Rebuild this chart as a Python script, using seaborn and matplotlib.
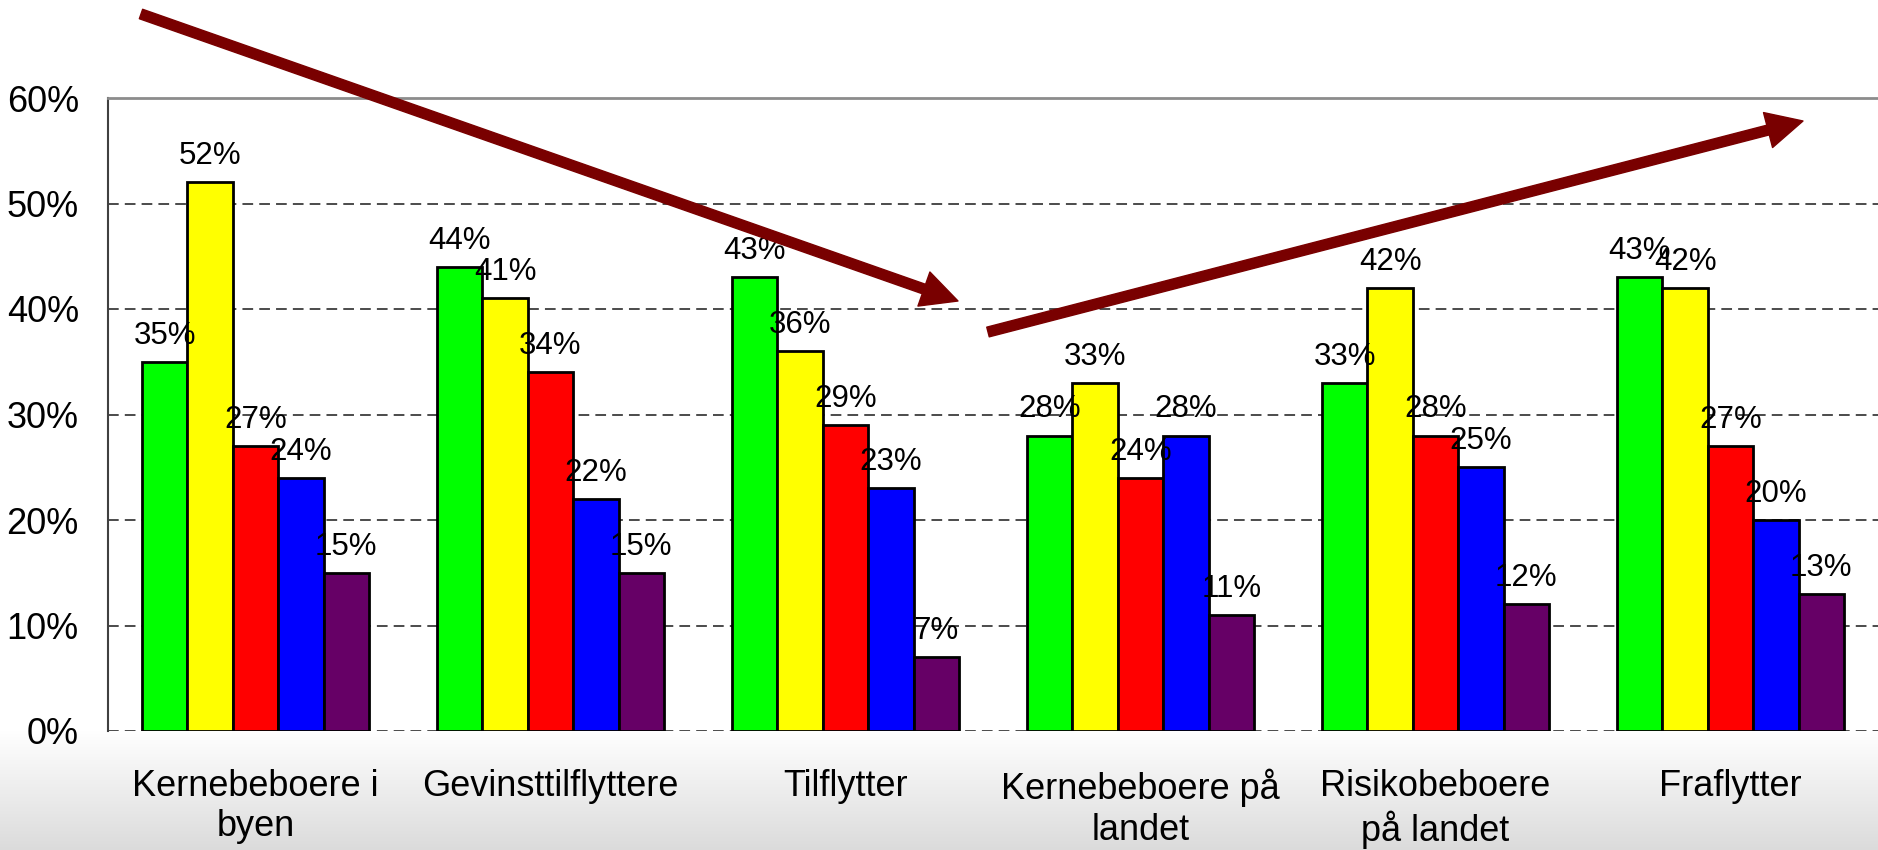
import numpy as np
import pandas as pd
import matplotlib
matplotlib.use("Agg")
import matplotlib.pyplot as plt
import seaborn as sns
from matplotlib.patches import FancyArrowPatch

# ---------------- data ----------------
categories = ["Kernebeboere i\nbyen", "Gevinsttilflyttere", "Tilflytter",
              "Kernebeboere på\nlandet", "Risikobeboere\npå landet", "Fraflytter"]
series = ["Serie 1", "Serie 2", "Serie 3", "Serie 4", "Serie 5"]
serie1 = [35, 44, 43, 28, 33, 43]
serie2 = [52, 41, 36, 33, 42, 42]
serie3 = [27, 34, 29, 24, 28, 27]
serie4 = [24, 22, 23, 28, 25, 20]
serie5 = [15, 15, 7, 11, 12, 13]
y_ticks = [0, 10, 20, 30, 40, 50, 60]
colors = ["#00FF00", "#FFFF00", "#FF0000", "#0000FF", "#660066"]

values = [serie1, serie2, serie3, serie4, serie5]
rows = []
for s, vals in zip(series, values):
    for c, v in zip(categories, vals):
        rows.append({"category": c, "series": s, "value": v})
df = pd.DataFrame(rows)

# ---------------- figure ----------------
sns.set_style("white")
plt.rcParams["font.family"] = ["Liberation Sans", "DejaVu Sans"]
plt.rcParams["text.color"] = "black"
plt.rcParams["xtick.labelcolor"] = "black"
plt.rcParams["ytick.labelcolor"] = "black"

W, H, DPI = 1878, 850, 100
fig = plt.figure(figsize=(W / DPI, H / DPI), dpi=DPI)
fig.patch.set_facecolor("white")

ax_left, ax_right, ax_top, ax_bottom = 108, 1878, 98, 731
bottom_frac = (H - ax_bottom) / H

# gradient background below plot area
bg = fig.add_axes([0, 0, 1, bottom_frac], zorder=-5)
grad = np.linspace(1.0, 0.86, 200).reshape(-1, 1)
bg.imshow(np.dstack([grad, grad, grad]), aspect="auto", extent=[0, 1, 0, 1],
          origin="upper")
bg.set_axis_off()

ax = fig.add_axes([ax_left / W, bottom_frac, (ax_right - ax_left) / W,
                   (ax_bottom - ax_top) / H], zorder=1)
ax.set_facecolor("white")

sns.barplot(data=df, x="category", y="value", hue="series", palette=colors,
            order=categories, hue_order=series, width=0.77, saturation=1,
            edgecolor="black", linewidth=2, legend=False, ax=ax, zorder=2)

for cont, vals in zip(ax.containers, values):
    ax.bar_label(cont, labels=[f"{v}%" for v in vals], padding=8,
                 fontsize=22.5, color="black", zorder=5)

ax.set_ylim(0, 60)
ax.set_xlim(-0.5, len(categories) - 0.5)
ax.set_yticks(y_ticks)
ax.set_yticklabels([f"{t}%" for t in y_ticks], fontsize=26)
ax.set_xticks(range(len(categories)))
ax.set_xticklabels(categories, fontsize=26, linespacing=1.22)
ax.set_xticks(np.arange(-0.5, len(categories), 1.0), minor=True)
ax.tick_params(axis="x", which="major", length=0, pad=27)
ax.tick_params(axis="x", which="minor", length=8, width=1, color="#404040",
               direction="out")
ax.tick_params(axis="y", which="major", length=8, width=1.2, color="#404040",
               direction="out", pad=13)
ax.set_xlabel("")
ax.set_ylabel("")

ax.set_axisbelow(True)
ax.yaxis.grid(True, linestyle=(0, (7, 4)), color="#1a1a1a", linewidth=1.1)
ax.xaxis.grid(False)

for side in ["right", "bottom"]:
    ax.spines[side].set_visible(False)
ax.spines["left"].set_color("#404040")
ax.spines["left"].set_linewidth(1.5)
ax.spines["top"].set_color("#8c8c8c")
ax.spines["top"].set_linewidth(2)

# decorative arrows (figure pixels)
arrow_color = "#790000"
for (x0, y0), (x1, y1) in [((141, 14), (958, 301)), ((988, 332), (1803, 121))]:
    arr = FancyArrowPatch((x0, H - y0), (x1, H - y1),
                          transform=None,
                          arrowstyle="simple,head_length=2.6,head_width=2.6,tail_width=0.72",
                          mutation_scale=10, color=arrow_color,
                          shrinkA=0, shrinkB=0, zorder=10)
    fig.add_artist(arr)

fig.savefig("out.png", dpi=DPI)
